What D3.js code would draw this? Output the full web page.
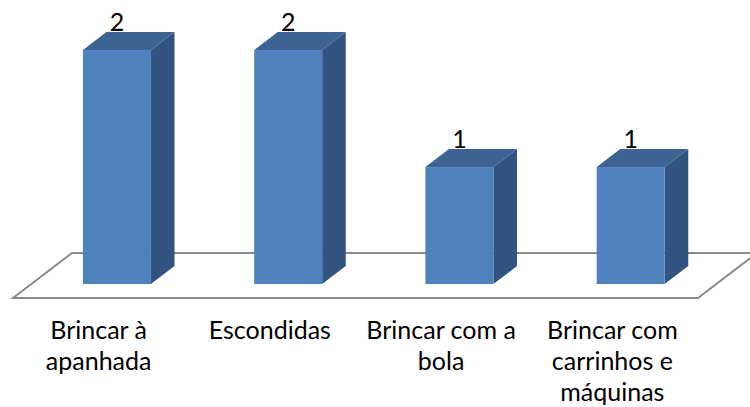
<!DOCTYPE html>
<html>
<head>
<meta charset="utf-8">
<script src="https://cdn.jsdelivr.net/npm/d3@7"></script>
<style>
  body { margin: 0; background: #fff; }
  text { font-family: Lato, "Open Sans", sans-serif; fill: #000; }
</style>
</head>
<body>
<div id="chart"></div>
<script>
// data
var categories = ["Brincar à apanhada", "Escondidas", "Brincar com a bola", "Brincar com carrinhos e máquinas"]
var labelLines = [["Brincar à", "apanhada"], ["Escondidas"], ["Brincar com a", "bola"], ["Brincar com", "carrinhos e", "máquinas"]]
var values = [2, 2, 1, 1]

var width = 750, height = 407

var svg = d3.select("#chart").append("svg")
  .attr("width", width)
  .attr("height", height)

// floor front edge and depth vector
var floorY = 298
var depth = [59, -45]
var frontT = 0.31, backT = 0.71

var x = d3.scaleBand()
  .domain(categories)
  .range([13, 698])

var h = d3.scaleLinear()
  .domain([0, 2])
  .range([0, 234])

// floor
var fx0 = x.range()[0], fx1 = x.range()[1]
svg.append("polygon")
  .attr("points", [
    [fx0, floorY], [fx1, floorY],
    [fx1 + depth[0], floorY + depth[1]], [fx0 + depth[0], floorY + depth[1]]
  ].map(function(p) { return p.join(",") }).join(" "))
  .attr("fill", "none")
  .attr("stroke", "#8a8a8a")
  .attr("stroke-width", 2)

var barW = x.bandwidth() * 0.397
var fdx = depth[0] * frontT, fdy = depth[1] * frontT
var ddx = depth[0] * (backT - frontT), ddy = depth[1] * (backT - frontT)

var bars = svg.selectAll(".bar")
  .data(categories)
  .enter().append("g")
  .attr("class", "bar")

function pts(a) { return a.map(function(p) { return p.join(",") }).join(" ") }

bars.each(function(d, i) {
  var g = d3.select(this)
  var cx = x(d) + x.bandwidth() / 2 + fdx
  var x0 = cx - barW / 2, x1 = cx + barW / 2
  var yb = floorY + fdy
  var yt = yb - h(values[i])

  // side
  g.append("polygon")
    .attr("points", pts([[x1, yt], [x1 + ddx, yt + ddy], [x1 + ddx, yb + ddy], [x1, yb]]))
    .attr("fill", "#325480")
  // top
  g.append("polygon")
    .attr("points", pts([[x0, yt], [x0 + ddx, yt + ddy], [x1 + ddx, yt + ddy], [x1, yt]]))
    .attr("fill", "#3d6392")
  // front
  g.append("rect")
    .attr("x", x0)
    .attr("y", yt)
    .attr("width", barW)
    .attr("height", yb - yt)
    .attr("fill", "#4f81bd")

  // value label
  g.append("text")
    .attr("x", cx)
    .attr("y", yt + ddy - 1)
    .attr("text-anchor", "middle")
    .attr("font-size", 25)
    .text(values[i])
})

// category labels
var labels = svg.selectAll(".cat")
  .data(categories)
  .enter().append("text")
  .attr("class", "cat")
  .attr("text-anchor", "middle")
  .attr("font-size", 25)
  .attr("x", function(d) { return x(d) + x.bandwidth() / 2 })
  .attr("y", 339)

labels.selectAll("tspan")
  .data(function(d, i) { return labelLines[i] })
  .enter().append("tspan")
  .attr("x", function() { return d3.select(this.parentNode).attr("x") })
  .attr("dy", function(d, j) { return j === 0 ? 0 : 31 })
  .text(function(d) { return d })
</script>
</body>
</html>
